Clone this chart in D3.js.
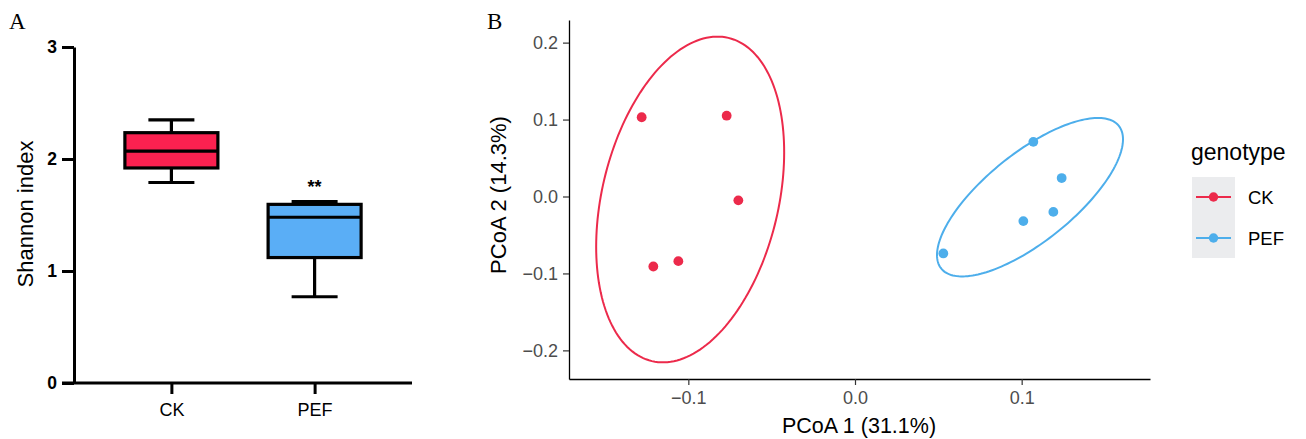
<!DOCTYPE html>
<html><head><meta charset="utf-8">
<script src="https://cdn.jsdelivr.net/npm/d3@7"></script>
<style>body{margin:0;background:#fff}svg{display:block}</style>
</head><body><svg id="c" width="1306" height="439"></svg>
<script>
// ---------- Panel A data (Shannon index box plot) ----------
const groups = ["CK", "PEF"];
const boxMin = [1.79, 0.77];
const boxQ1 = [1.92, 1.12];
const boxMedian = [2.07, 1.48];
const boxQ3 = [2.235, 1.595];
const boxMax = [2.35, 1.62];
const signifMarks = ["", "**"];
const shannonTicks = [0, 1, 2, 3];

// ---------- Panel B data (PCoA) ----------
const sampleGroup = ["CK", "CK", "CK", "CK", "CK", "PEF", "PEF", "PEF", "PEF", "PEF"];
const pcoa1 = [-0.128, -0.077, -0.070, -0.121, -0.106, 0.107, 0.124, 0.119, 0.101, 0.053];
const pcoa2 = [0.103, 0.105, -0.005, -0.091, -0.084, 0.071, 0.024, -0.020, -0.032, -0.074];
// 95% ellipse per group: centre, half-extent along each axis, correlation
const ellipseGroup = ["CK", "PEF"];
const ellipseCx = [-0.0989, 0.105];
const ellipseCy = [-0.0039, -0.0009];
const ellipseHx = [0.0564, 0.0558];
const ellipseHy = [0.2117, 0.103];
const ellipseR = [0.29, 0.73];
const pcoaTicksX = [-0.1, 0.0, 0.1];
const pcoaTicksY = [-0.2, -0.1, 0.0, 0.1, 0.2];

const svg = d3.select("#c");
const font = "'Liberation Sans', Arial, Helvetica, sans-serif";

// ================= Panel A =================
const boxFill = {CK: "#FB2150", PEF: "#5AAEF6"};
const A = svg.append("g");
const yA = d3.scaleLinear().domain([0, 3]).range([383, 47]);
const xA = d3.scalePoint().domain(groups).range([74, 412]).padding(0.68);

A.append("text").attr("x", 9).attr("y", 29).attr("font-family", "'Liberation Serif', 'Times New Roman', serif")
  .attr("font-size", 23).text("A");

const yAxisA = A.append("g").attr("transform", "translate(74,0)")
  .call(d3.axisLeft(yA).tickValues(shannonTicks).tickFormat(d3.format("d")).tickSize(12).tickSizeOuter(0));
yAxisA.select(".domain").attr("stroke", "#000").attr("stroke-width", 3);
yAxisA.selectAll(".tick line").attr("stroke", "#000").attr("stroke-width", 3);
yAxisA.selectAll(".tick text").attr("font-family", font).attr("font-size", 17.5).attr("font-weight", "bold")
  .attr("fill", "#000").attr("x", -17);

const xAxisA = A.append("g").attr("transform", "translate(0,383)")
  .call(d3.axisBottom(xA).tickSize(11).tickSizeOuter(0));
xAxisA.select(".domain").attr("stroke", "#000").attr("stroke-width", 3).attr("d", "M62,0H412");
xAxisA.selectAll(".tick line").attr("stroke", "#000").attr("stroke-width", 3);
xAxisA.selectAll(".tick text").attr("font-family", font).attr("font-size", 18).attr("fill", "#000").attr("y", 20);

A.append("text").attr("transform", "translate(33,214) rotate(-90)").attr("text-anchor", "middle")
  .attr("font-family", font).attr("font-size", 22).text("Shannon index");

const boxW = 93, capW = 46;
groups.forEach((g, i) => {
  const cx = xA(g);
  const gg = A.append("g");
  gg.append("line").attr("x1", cx).attr("x2", cx).attr("y1", yA(boxMax[i])).attr("y2", yA(boxQ3[i]))
    .attr("stroke", "#000").attr("stroke-width", 3.2);
  gg.append("line").attr("x1", cx).attr("x2", cx).attr("y1", yA(boxQ1[i])).attr("y2", yA(boxMin[i]))
    .attr("stroke", "#000").attr("stroke-width", 3.2);
  gg.append("line").attr("x1", cx - capW / 2).attr("x2", cx + capW / 2).attr("y1", yA(boxMax[i])).attr("y2", yA(boxMax[i]))
    .attr("stroke", "#000").attr("stroke-width", 3.2);
  gg.append("line").attr("x1", cx - capW / 2).attr("x2", cx + capW / 2).attr("y1", yA(boxMin[i])).attr("y2", yA(boxMin[i]))
    .attr("stroke", "#000").attr("stroke-width", 3.2);
  gg.append("rect").attr("x", cx - boxW / 2).attr("width", boxW).attr("y", yA(boxQ3[i]))
    .attr("height", yA(boxQ1[i]) - yA(boxQ3[i])).attr("fill", boxFill[g]).attr("stroke", "#000").attr("stroke-width", 3.2);
  gg.append("line").attr("x1", cx - boxW / 2).attr("x2", cx + boxW / 2).attr("y1", yA(boxMedian[i])).attr("y2", yA(boxMedian[i]))
    .attr("stroke", "#000").attr("stroke-width", 3.2);
  if (signifMarks[i]) {
    gg.append("text").attr("x", cx).attr("y", yA(boxMax[i]) - 9).attr("text-anchor", "middle")
      .attr("font-family", font).attr("font-size", 18).attr("font-weight", "bold").text(signifMarks[i]);
  }
});

// ================= Panel B =================
const ptColor = {CK: "#EC2A4B", PEF: "#4DAEEB"};
const B = svg.append("g");
const xB = d3.scaleLinear().domain([-0.1716, 0.1770]).range([569, 1150]);
const yB = d3.scaleLinear().domain([-0.2372, 0.2294]).range([379, 20]);

B.append("text").attr("x", 487).attr("y", 29).attr("font-family", "'Liberation Serif', 'Times New Roman', serif")
  .attr("font-size", 23).text("B");

const fmt = d3.format(".1f");
const yAxisB = B.append("g").attr("transform", "translate(569,0)")
  .call(d3.axisLeft(yB).tickValues(pcoaTicksY).tickFormat(fmt).tickSize(6).tickPadding(5).tickSizeOuter(0));
const xAxisB = B.append("g").attr("transform", "translate(0,379)")
  .call(d3.axisBottom(xB).tickValues(pcoaTicksX).tickFormat(fmt).tickSize(6).tickPadding(6).tickSizeOuter(0));
[yAxisB, xAxisB].forEach(ax => {
  ax.select(".domain").attr("stroke", "#000").attr("stroke-width", 1.3);
  ax.selectAll(".tick line").attr("stroke", "#333").attr("stroke-width", 1.2);
  ax.selectAll(".tick text").attr("font-family", font).attr("font-size", 18).attr("fill", "#4D4D4D");
});

B.append("text").attr("x", 859).attr("y", 433).attr("text-anchor", "middle").attr("font-family", font)
  .attr("font-size", 21.5).attr("fill", "#000").text("PCoA 1 (31.1%)");
B.append("text").attr("transform", "translate(506,195) rotate(-90)").attr("text-anchor", "middle")
  .attr("font-family", font).attr("font-size", 22).attr("fill", "#000").text("PCoA 2 (14.3%)");

// ellipses
const tSteps = d3.range(0, 361, 2).map(d => d * Math.PI / 180);
ellipseGroup.forEach((g, i) => {
  const r = ellipseR[i], s = Math.sqrt(1 - r * r);
  const pts = tSteps.map(t => [
    xB(ellipseCx[i] + ellipseHx[i] * Math.cos(t)),
    yB(ellipseCy[i] + ellipseHy[i] * (r * Math.cos(t) + s * Math.sin(t)))
  ]);
  B.append("path").attr("d", d3.line().curve(d3.curveLinearClosed)(pts))
    .attr("fill", "none").attr("stroke", ptColor[g]).attr("stroke-width", 2);
});

// points
B.selectAll("circle.pt").data(pcoa1.map((d, i) => ({x: d, y: pcoa2[i], g: sampleGroup[i]})))
  .enter().append("circle").attr("class", "pt")
  .attr("cx", d => xB(d.x)).attr("cy", d => yB(d.y)).attr("r", 4.9).attr("fill", d => ptColor[d.g]);

// legend
const L = svg.append("g");
L.append("text").attr("x", 1191).attr("y", 160).attr("font-family", font).attr("font-size", 23).text("genotype");
L.append("rect").attr("x", 1192).attr("y", 177).attr("width", 43).attr("height", 81).attr("fill", "#EBECEE");
groups.forEach((g, i) => {
  const cy = 197 + i * 41;
  L.append("line").attr("x1", 1196).attr("x2", 1231).attr("y1", cy).attr("y2", cy)
    .attr("stroke", ptColor[g]).attr("stroke-width", 2);
  L.append("circle").attr("cx", 1213.5).attr("cy", cy).attr("r", 4.7).attr("fill", ptColor[g]);
  L.append("text").attr("x", 1248).attr("y", cy + 7).attr("font-family", font).attr("font-size", 18.5).text(g);
});
</script></body></html>
